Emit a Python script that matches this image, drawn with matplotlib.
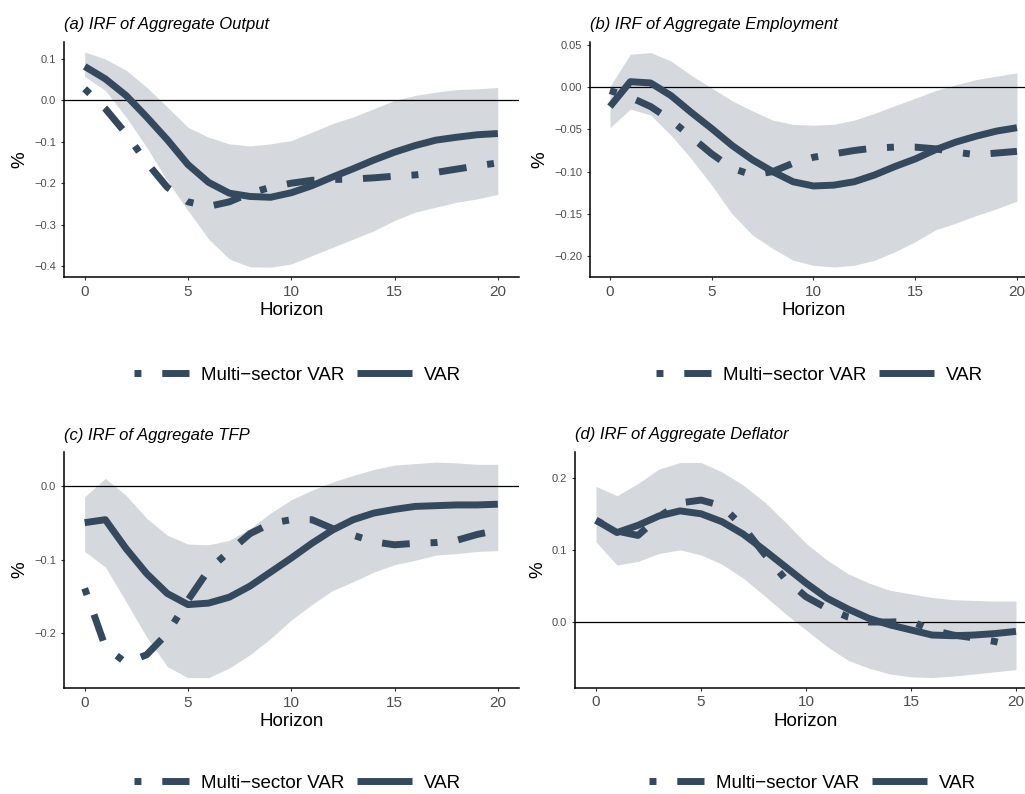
#!/usr/bin/env python3
"""IRF panels: multi-sector VAR vs VAR with confidence band."""

import matplotlib
matplotlib.use("Agg")
import matplotlib.pyplot as plt
from matplotlib.lines import Line2D

plt.rcParams["font.family"] = ["Liberation Sans", "DejaVu Sans"]

LINE = "#34495e"
BAND = "#d5d9de"

HORIZON = [0, 1, 2, 3, 4, 5, 6, 7, 8, 9, 10, 11, 12, 13, 14, 15, 16, 17, 18, 19, 20]

# (a) output
OUT_VAR = [0.082, 0.052, 0.012, -0.040, -0.095, -0.155, -0.198, -0.224, -0.232, -0.234, -0.223,
           -0.206, -0.185, -0.165, -0.144, -0.125, -0.109, -0.096, -0.089, -0.083, -0.080]
OUT_MS = [0.028, -0.020, -0.080, -0.150, -0.210, -0.245, -0.256, -0.245, -0.224, -0.210, -0.200,
          -0.193, -0.191, -0.190, -0.187, -0.183, -0.180, -0.174, -0.166, -0.158, -0.151]
OUT_HI = [0.117, 0.100, 0.073, 0.032, -0.016, -0.065, -0.089, -0.105, -0.110, -0.105, -0.097,
          -0.077, -0.056, -0.040, -0.020, 0.000, 0.012, 0.020, 0.026, 0.028, 0.031]
OUT_LO = [0.058, 0.024, -0.040, -0.113, -0.194, -0.266, -0.335, -0.383, -0.402, -0.403, -0.395,
          -0.375, -0.355, -0.335, -0.315, -0.290, -0.270, -0.258, -0.246, -0.238, -0.227]

# (b) employment
EMP_VAR = [-0.023, 0.0065, 0.005, -0.010, -0.030, -0.049, -0.069, -0.086, -0.100, -0.112, -0.117,
           -0.116, -0.112, -0.104, -0.094, -0.085, -0.074, -0.065, -0.058, -0.052, -0.048]
EMP_MS = [-0.004, -0.012, -0.023, -0.039, -0.059, -0.079, -0.096, -0.104, -0.100, -0.090, -0.083,
          -0.079, -0.075, -0.072, -0.071, -0.071, -0.073, -0.077, -0.080, -0.078, -0.076]
EMP_HI = [0.001, 0.039, 0.041, 0.031, 0.014, -0.001, -0.016, -0.028, -0.039, -0.044, -0.045,
          -0.044, -0.039, -0.031, -0.022, -0.013, -0.004, 0.003, 0.009, 0.013, 0.017]
EMP_LO = [-0.048, -0.026, -0.033, -0.057, -0.085, -0.116, -0.150, -0.175, -0.191, -0.205, -0.211,
          -0.213, -0.211, -0.205, -0.195, -0.183, -0.169, -0.161, -0.152, -0.144, -0.135]

# (c) TFP
TFP_VAR = [-0.050, -0.046, -0.085, -0.119, -0.146, -0.161, -0.159, -0.151, -0.136, -0.117, -0.098,
           -0.078, -0.060, -0.046, -0.037, -0.032, -0.028, -0.027, -0.026, -0.026, -0.025]
TFP_MS = [-0.139, -0.218, -0.240, -0.229, -0.200, -0.155, -0.114, -0.089, -0.065, -0.051, -0.046,
          -0.046, -0.058, -0.067, -0.076, -0.080, -0.078, -0.077, -0.074, -0.066, -0.060]
TFP_HI = [-0.015, 0.010, -0.013, -0.044, -0.067, -0.079, -0.080, -0.074, -0.058, -0.037, -0.019,
          -0.006, 0.005, 0.014, 0.022, 0.028, 0.030, 0.032, 0.031, 0.029, 0.029]
TFP_LO = [-0.089, -0.110, -0.157, -0.205, -0.245, -0.260, -0.260, -0.247, -0.229, -0.207, -0.182,
          -0.161, -0.142, -0.130, -0.117, -0.107, -0.101, -0.094, -0.092, -0.089, -0.088]

# (d) deflator
DEF_VAR = [0.141, 0.124, 0.134, 0.147, 0.154, 0.150, 0.139, 0.122, 0.100, 0.077, 0.054,
           0.033, 0.018, 0.005, -0.004, -0.011, -0.018, -0.019, -0.018, -0.016, -0.013]
DEF_MS = [0.141, 0.126, 0.120, 0.146, 0.165, 0.169, 0.161, 0.132, 0.095, 0.060, 0.035,
          0.019, 0.007, 0.000, 0.000, 0.001, -0.011, -0.018, -0.022, -0.027, -0.034]
DEF_HI = [0.188, 0.175, 0.192, 0.212, 0.221, 0.221, 0.208, 0.190, 0.167, 0.139, 0.109,
          0.086, 0.067, 0.054, 0.044, 0.039, 0.034, 0.031, 0.030, 0.029, 0.029]
DEF_LO = [0.111, 0.079, 0.084, 0.095, 0.100, 0.093, 0.080, 0.061, 0.037, 0.012, -0.011,
          -0.034, -0.053, -0.064, -0.072, -0.076, -0.077, -0.075, -0.072, -0.069, -0.066]

TITLES = ["(a) IRF of Aggregate Output", "(b) IRF of Aggregate Employment",
          "(c) IRF of Aggregate TFP", "(d) IRF of Aggregate Deflator"]
YTICKS = [[-0.4, -0.3, -0.2, -0.1, 0.0, 0.1],
          [-0.20, -0.15, -0.10, -0.05, 0.00, 0.05],
          [-0.2, -0.1, 0.0],
          [0.0, 0.1, 0.2]]
YFMT = ["{:.1f}", "{:.2f}", "{:.1f}", "{:.1f}"]
YLIMS = [(-0.4265, 0.141), (-0.2248, 0.0535), (-0.274, 0.0457), (-0.091, 0.2356)]
XTICKS = [0, 5, 10, 15, 20]
LEGEND_LABELS = ["Multi\u2212sector VAR", "VAR"]

W, H = 1025, 794
# pixel boxes: left, top, right, bottom
BOXES = [(64, 42, 518.5, 277), (589.6, 42, 1037.3, 277),
         (64, 452, 518.5, 688), (575, 452, 1037, 687.7)]
YLAB_OFF = [44, 49.6, 44, 37]

DASH = (0, (1, 3, 4, 3))


def panel(fig, i, var, ms, hi, lo):
    l, t, r, b = BOXES[i]
    ax = fig.add_axes([l / W, 1 - b / H, (r - l) / W, (b - t) / H])
    ax.fill_between(HORIZON, lo, hi, color=BAND, linewidth=0, zorder=1)
    ax.axhline(0, color="black", linewidth=0.9, zorder=2)
    ax.plot(HORIZON, ms, color=LINE, linewidth=5, linestyle=DASH,
            dash_capstyle="butt", zorder=3)
    ax.plot(HORIZON, var, color=LINE, linewidth=5, solid_capstyle="butt",
            solid_joinstyle="round", zorder=4)

    ax.set_xlim(-1, 21)
    ax.set_ylim(*YLIMS[i])
    ax.set_xticks(XTICKS)
    ax.set_yticks(YTICKS[i])
    ax.set_yticklabels([YFMT[i].format(v).replace("-", "\u2212") for v in YTICKS[i]])
    ax.tick_params(axis="x", labelsize=11, colors="#333333", labelcolor="#4d4d4d",
                   length=2.5, width=0.8, pad=3)
    ax.tick_params(axis="y", labelsize=8, colors="#333333", labelcolor="#4d4d4d",
                   length=2.5, width=0.8, pad=3)
    for side in ("top", "right"):
        ax.spines[side].set_visible(False)
    for side in ("left", "bottom"):
        ax.spines[side].set_linewidth(1.1)
        ax.spines[side].set_color("black")

    h_px = b - t
    w_px = r - l
    ax.set_xlabel("Horizon", fontsize=13.5)
    ax.xaxis.set_label_coords(0.5, -33.5 / h_px)
    ax.xaxis.label.set_va("center")
    ax.set_ylabel("%", fontsize=13.5)
    ax.yaxis.set_label_coords(-YLAB_OFF[i] / w_px, 0.5)
    ax.yaxis.label.set_va("center")

    ax.text(0, 1 + 17 / h_px, TITLES[i], transform=ax.transAxes, fontsize=12,
            style="italic", ha="left", va="center")

    handles = [
        Line2D([], [], color=LINE, linewidth=5, linestyle=DASH, dash_capstyle="butt"),
        Line2D([], [], color=LINE, linewidth=5, solid_capstyle="butt"),
    ]
    leg_y = (b - (375 if i < 2 else 783)) / h_px
    ax.legend(handles, LEGEND_LABELS, loc="center", bbox_to_anchor=(0.514, leg_y),
              ncol=2, frameon=False, fontsize=13.5, handlelength=2.93,
              handletextpad=0.64, columnspacing=0.7)
    return ax


def main() -> None:
    fig = plt.figure(figsize=(W / 100, H / 100), dpi=100)
    panel(fig, 0, OUT_VAR, OUT_MS, OUT_HI, OUT_LO)
    panel(fig, 1, EMP_VAR, EMP_MS, EMP_HI, EMP_LO)
    panel(fig, 2, TFP_VAR, TFP_MS, TFP_HI, TFP_LO)
    panel(fig, 3, DEF_VAR, DEF_MS, DEF_HI, DEF_LO)
    fig.savefig("out.png", dpi=100)
    plt.close(fig)


if __name__ == "__main__":
    main()
